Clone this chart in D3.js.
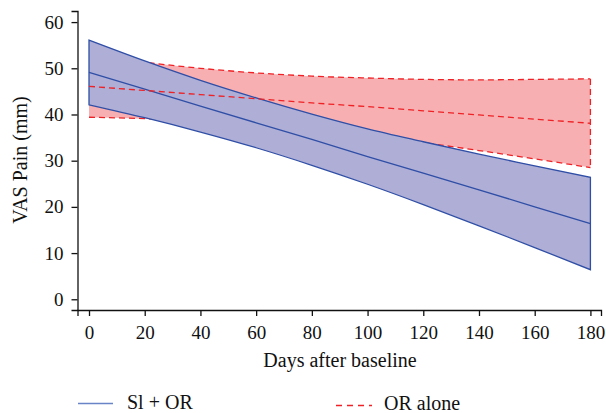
<!DOCTYPE html>
<html><head><meta charset="utf-8">
<script src="https://cdn.jsdelivr.net/npm/d3@7"></script>
<style>
html,body{margin:0;padding:0;background:#fff;}
svg{display:block;}
svg text{font-family:"Liberation Serif","Times New Roman","DejaVu Serif",serif !important;}
</style></head>
<body>
<svg id="chart" width="606" height="413"></svg>
<script>
// Data
const days = [0, 20, 40, 60, 80, 100, 120, 140, 160, 180];
const slMean  = [49.1, 45.5, 41.8, 38.2, 34.6, 30.9, 27.3, 23.7, 20.0, 16.4];
const slUpper = [56.1, 51.6, 47.4, 43.6, 40.1, 36.9, 34.1, 31.4, 28.9, 26.4];
const slLower = [42.1, 39.3, 36.2, 32.8, 29.0, 24.9, 20.5, 15.9, 11.2, 6.4];
const orMean  = [46.1, 45.2, 44.3, 43.4, 42.5, 41.7, 40.8, 39.9, 39.0, 38.1];
const orUpper = [52.8, 51.3, 50.0, 49.0, 48.3, 47.9, 47.6, 47.5, 47.6, 47.7];
const orLower = [39.4, 39.1, 38.6, 37.8, 36.8, 35.4, 33.9, 32.2, 30.4, 28.5];
const xTicks = [0, 20, 40, 60, 80, 100, 120, 140, 160, 180];
const yTicks = [0, 10, 20, 30, 40, 50, 60];
const seriesNames = ["Sl + OR", "OR alone"];

const svg = d3.select("#chart");
const x = d3.scaleLinear().domain([-4.13, 183.8]).range([77.5, 601]);
const y = d3.scaleLinear().domain([-2.32, 62.4]).range([310, 11]);

const blueFill = "#aeaed6", blueLine = "#2f4ea6";
const redFill = "#f8afb1", redLine = "#ee2226";
const FS = 20, TFS = 19;

const sl = days.map((d, i) => ({d, m: slMean[i], u: slUpper[i], l: slLower[i]}));
const or = days.map((d, i) => ({d, m: orMean[i], u: orUpper[i], l: orLower[i]}));

const area = d3.area().x(p => x(p.d)).y0(p => y(p.l)).y1(p => y(p.u)).curve(d3.curveMonotoneX);
const lineU = d3.line().x(p => x(p.d)).y(p => y(p.u)).curve(d3.curveMonotoneX);
const lineL = d3.line().x(p => x(p.d)).y(p => y(p.l)).curve(d3.curveMonotoneX);
const lineM = d3.line().x(p => x(p.d)).y(p => y(p.m));

// OR alone band
svg.append("path").attr("d", area(or)).attr("fill", redFill);
const dash = "6,4";
[lineU(or), lineL(or)].forEach(dd => svg.append("path").attr("d", dd)
  .attr("fill", "none").attr("stroke", redLine).attr("stroke-width", 1.3).attr("stroke-dasharray", dash));
const lastOr = or[or.length - 1];
svg.append("line").attr("x1", x(lastOr.d)).attr("x2", x(lastOr.d))
  .attr("y1", y(lastOr.u)).attr("y2", y(lastOr.l))
  .attr("stroke", redLine).attr("stroke-width", 1.3).attr("stroke-dasharray", dash);

// Sl + OR band
svg.append("path").attr("d", area(sl)).attr("fill", blueFill)
  .attr("stroke", blueLine).attr("stroke-width", 1.3).attr("stroke-linejoin", "miter");
svg.append("path").attr("d", lineM(sl)).attr("fill", "none").attr("stroke", blueLine).attr("stroke-width", 1.3);

// OR mean on top
svg.append("path").attr("d", lineM(or)).attr("fill", "none").attr("stroke", redLine)
  .attr("stroke-width", 1.3).attr("stroke-dasharray", dash);

// Axes
const ax = svg.append("g").attr("transform", "translate(0,310)")
  .call(d3.axisBottom(x).tickValues(xTicks).tickSizeOuter(0).tickSize(6).tickPadding(7));
const ay = svg.append("g").attr("transform", "translate(77.5,0)")
  .call(d3.axisLeft(y).tickValues(yTicks).tickSizeOuter(0).tickSize(6).tickPadding(8));
[ax, ay].forEach(g => {
  g.attr("font-family", null).attr("font-size", null);
  g.selectAll("path,line").attr("stroke", "#111").attr("stroke-width", 1.3);
  g.selectAll("text").style("font-size", TFS + "px").attr("fill", "#111");
});
ax.selectAll("text").attr("dy", "0.85em");

svg.append("text").attr("x", 340).attr("y", 367).attr("text-anchor", "middle")
  .style("font-size", FS + "px").attr("fill", "#111").text("Days after baseline");
svg.append("text").attr("transform", "translate(27,160) rotate(-90)").attr("text-anchor", "middle")
  .style("font-size", FS + "px").attr("fill", "#111").text("VAS Pain (mm)");

// Legend
svg.append("line").attr("x1", 78).attr("x2", 113).attr("y1", 403.5).attr("y2", 403.5)
  .attr("stroke", "#6a84c8").attr("stroke-width", 1.5);
svg.append("text").attr("x", 127).attr("y", 409).style("font-size", FS + "px").attr("fill", "#111").text(seriesNames[0]);
svg.append("line").attr("x1", 336).attr("x2", 372).attr("y1", 405.5).attr("y2", 405.5)
  .attr("stroke", redLine).attr("stroke-width", 1.3).attr("stroke-dasharray", "6,5");
svg.append("text").attr("x", 384).attr("y", 410).style("font-size", FS + "px").attr("fill", "#111").text(seriesNames[1]);
</script>
</body></html>
